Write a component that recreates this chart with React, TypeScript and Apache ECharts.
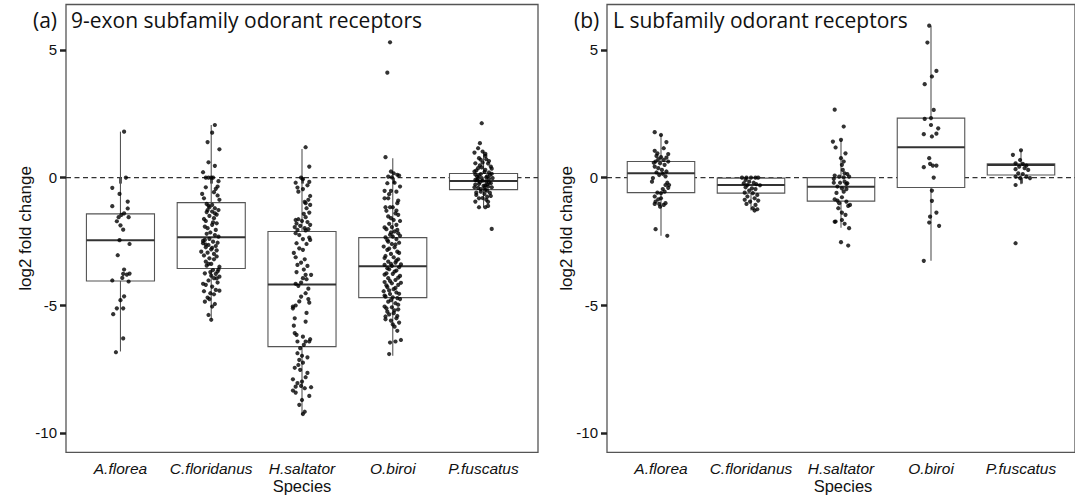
import React, { useEffect, useRef } from "react";
import * as echarts from "echarts";

// ---------- categories & ticks ----------
const CATEGORIES = ["A.florea", "C.floridanus", "H.saltator", "O.biroi", "P.fuscatus"];
const X_TICKS = [1, 2, 3, 4, 5];
const Y_TICKS = [-10, -5, 0, 5];
const REFERENCE_LINE = 0;

// ---------- box statistics [low whisker, q1, median, q3, high whisker] ----------
const BOX_9EXON = [
  [-6.81, -4.05, -2.45, -1.42, 1.8],
  [-5.55, -3.56, -2.34, -0.98, 2.06],
  [-9.3, -6.62, -4.19, -2.11, 1.12],
  [-6.98, -4.7, -3.47, -2.35, 0.76],
  [-1.16, -0.47, -0.13, 0.16, 1.02],
];
const BOX_L = [
  [-2.28, -0.59, 0.17, 0.63, 1.7],
  [-1.29, -0.61, -0.29, -0.02, 0.0],
  [-1.96, -0.92, -0.36, 0.0, 1.48],
  [-3.26, -0.39, 1.19, 2.33, 5.95],
  [-0.26, 0.1, 0.49, 0.54, 1.07],
];

// ---------- jittered points [jitter offset, log2 fold change] ----------
const PTS_9EXON_AFLOREA = [
  [0.04, 1.8], [0.06, 0.0], [-0.09, -0.4], [-0.01, -0.64], [0.08, -0.94], [-0.09, -1.12], [0.08, -1.21],
  [0.04, -1.4], [-0.02, -1.55], [0.01, -1.46], [0.09, -1.55], [-0.04, -1.71], [0.0, -1.87], [0.03, -2.04],
  [-0.01, -2.45], [0.1, -2.6], [-0.03, -3.04], [0.04, -3.6], [0.03, -3.77], [0.1, -3.76], [0.07, -3.8],
  [-0.09, -4.03], [0.02, -3.93], [0.09, -4.07], [0.0, -4.8], [0.04, -4.65], [-0.04, -5.12], [0.03, -5.12],
  [-0.08, -5.35], [0.03, -6.3], [-0.05, -6.84],
];
const PTS_9EXON_CFLORIDANUS = [
  [0.04, 2.06], [0.01, 1.76], [-0.04, 1.39], [0.09, 1.11], [-0.03, 0.6], [0.04, 0.46], [-0.09, 0.21],
  [-0.06, 0], [-0.03, 0], [0, 0], [0.02, 0], [0.08, -0.14], [-0.06, -0.38], [0.05, -0.44], [0.07, -0.35],
  [0.03, -0.57], [-0.1, -0.64], [0.07, -0.7], [-0.08, -0.81], [0.09, -0.87], [-0.05, -1.03],
  [0.01, -1.07], [-0.02, -1.16], [0.04, -1.2], [-0.04, -1.27], [0.08, -1.27], [0.01, -1.33], [0.04, -1.4],
  [-0.02, -1.5], [0.03, -1.59], [-0.06, -1.7], [0.06, -1.79], [-0.07, -1.92], [0.01, -1.85], [-0.04, -1.98],
  [0.05, -2.05], [-0.01, -2.15], [0.08, -2.31],
  [-0.07, -2.44], [0.02, -2.51], [-0.09, -2.57], [-0.03, -2.64], [0.05, -2.68], [-0.06, -2.73], [0.0, -2.81],
  [-0.11, -2.9], [-0.04, -2.94], [0.03, -2.99], [0.06, -3.09], [-0.08, -3.05], [-0.02, -3.16], [-0.06, -3.29],
  [0.0, -3.38], [-0.03, -3.38], [0.09, -3.49],
  [0.02, -3.62], [0.07, -3.68], [0.05, -3.77], [0.0, -3.84], [0.09, -3.88], [-0.07, -3.75], [0.03, -3.94],
  [-0.03, -4.03], [0.07, -4.11], [-0.09, -4.16], [0.01, -4.27], [-0.06, -4.2], [0.05, -4.4], [0.09, -4.43],
  [-0.01, -4.53], [0.03, -4.57], [-0.04, -4.7], [-0.02, -4.76], [-0.07, -4.86], [0.01, -5.05], [-0.03, -5.38],
  [0.0, -5.57],
  [-0.03, -1.1], [0.06, -1.45], [-0.08, -1.62], [0.02, -1.75], [-0.05, -2.2], [0.04, -2.25], [-0.02, -2.4],
  [0.07, -2.55], [-0.06, -2.62], [0.01, -2.75], [0.06, -2.85], [-0.09, -2.48], [0.03, -3.2], [-0.05, -3.45],
  [0.08, -3.6], [-0.01, -3.7], [0.06, -3.95], [-0.08, -4.45], [0.04, -4.95], [-0.05, -1.35],
];
const PTS_9EXON_HSALTATOR = [
  [0.04, 1.19], [0.08, 0.43], [-0.01, 0.0], [0.01, -0.06], [-0.07, -0.2], [0.08, -0.17], [-0.05, -0.39],
  [0.01, -0.45], [0.09, -0.72], [0.07, -0.87], [0.04, -1.0], [0.09, -1.07], [0.05, -1.2], [0.08, -1.37],
  [0.02, -1.42], [0.04, -1.55], [-0.07, -1.66], [-0.04, -1.63], [0.0, -1.7], [0.06, -1.74], [-0.08, -1.94],
  [-0.02, -1.89], [0.03, -1.98], [-0.05, -2.05], [0.07, -2.02], [0.04, -2.07],
  [-0.07, -2.18], [0.08, -2.35], [0.01, -2.41], [0.09, -2.44], [-0.06, -2.57], [-0.03, -2.77], [0.01, -2.83],
  [-0.07, -3.12], [0.03, -3.2], [-0.01, -3.33], [-0.05, -3.42], [0.06, -3.46], [0.04, -3.81], [0.1, -3.81],
  [0.01, -3.94], [0.05, -3.98], [-0.07, -4.16], [-0.01, -4.11], [-0.04, -4.24], [0.04, -4.53], [-0.01, -4.66],
  [0.08, -4.9], [0.07, -4.76], [-0.1, -5.05], [-0.1, -5.12], [-0.07, -5.01], [-0.08, -5.51], [0.04, -5.64],
  [-0.08, -6.09], [-0.06, -6.16], [0.01, -6.23], [0.09, -6.33], [0.04, -6.42], [-0.05, -6.42], [0.08, -6.42],
  [-0.02, -6.68], [-0.05, -6.88], [0.0, -6.98], [0.06, -7.04], [-0.03, -7.14], [0.01, -7.25], [-0.04, -7.34],
  [-0.02, -7.53], [0.04, -7.82], [-0.1, -7.9], [0.0, -7.99], [-0.07, -8.19], [-0.01, -8.16], [0.03, -8.25],
  [-0.1, -8.34], [-0.07, -8.42], [0.1, -8.21], [0.0, -8.71], [0.03, -9.17], [0.01, -9.26],
  [-0.04, -0.55], [0.06, -0.3], [0.03, -0.95], [-0.06, -1.8], [0.09, -1.85], [-0.03, -2.25], [0.05, -2.6],
  [-0.09, -2.95], [0.02, -3.6], [-0.06, -3.7], [0.07, -4.35], [-0.03, -4.85], [0.05, -5.3], [-0.09, -5.8],
  [0.02, -6.55], [-0.08, -7.45], [0.06, -7.65], [-0.05, -8.05], [0.08, -8.55], [-0.03, -8.9],
];
const PTS_9EXON_OBIROI = [
  [-0.08, 0.8], [-0.02, 0.24], [0.01, 0.17], [0.05, 0.11], [-0.05, 0.04], [-0.01, 0.01], [0.07, 0.08],
  [-0.06, -0.22], [0.02, -0.2], [0.04, -0.55], [-0.09, -0.52], [-0.02, -0.52], [-0.09, -0.81], [-0.05, -0.81],
  [0.05, -1.0], [-0.08, -1.16], [-0.03, -1.16], [0.0, -1.16], [0.04, -1.29], [0.06, -1.46], [-0.02, -1.59],
  [0.01, -1.66], [-0.04, -1.81], [0.04, -1.85], [-0.01, -1.94], [-0.07, -2.02], [0.02, -2.11], [0.06, -2.18],
  [-0.03, -2.24], [0.0, -2.31], [-0.08, -2.34], [0.04, -2.41], [-0.05, -2.51], [0.07, -2.55], [-0.01, -2.6],
  [-0.1, -2.7], [0.02, -2.73], [-0.06, -2.83], [0.05, -2.9], [-0.02, -2.99], [-0.08, -3.07], [0.01, -3.12],
  [0.06, -3.2], [-0.05, -3.29], [0.03, -3.33], [-0.09, -3.42], [-0.01, -3.46], [0.07, -3.51], [-0.04, -3.59],
  [0.04, -3.64], [-0.07, -3.75], [0.0, -3.77], [0.08, -3.85], [-0.05, -3.94], [0.03, -4.01], [-0.09, -4.09],
  [-0.01, -4.14], [0.06, -4.2], [-0.06, -4.29], [0.01, -4.37], [-0.1, -4.45], [0.04, -4.5], [-0.03, -4.56],
  [-0.08, -4.66], [0.0, -4.69], [0.08, -4.76], [-0.05, -4.86], [0.03, -4.92], [-0.09, -5.05], [-0.01, -5.08],
  [0.06, -5.16], [-0.06, -5.25], [0.01, -5.31], [-0.08, -5.44], [0.04, -5.51], [-0.02, -5.6], [0.07, -5.68],
  [0.02, -5.84], [-0.03, -6.46], [0.03, -6.42], [0.09, -6.36], [-0.04, -6.91], [-0.03, 5.3], [-0.06, 4.11],
  [0.08, -0.35], [-0.04, -0.65], [0.06, -0.9], [-0.07, -1.3], [0.03, -1.4], [-0.05, -1.52], [0.08, -1.7],
  [-0.09, -1.95], [0.05, -2.05], [-0.02, -2.15], [0.08, -2.28], [-0.06, -2.45], [0.03, -2.62], [-0.04, -2.78],
  [0.07, -2.95], [-0.09, -3.15], [0.04, -3.25], [-0.02, -3.38], [0.09, -3.4], [-0.06, -3.55], [0.02, -3.68],
  [-0.09, -3.8], [0.06, -3.92], [-0.03, -4.05], [0.09, -4.12], [-0.07, -4.22], [0.03, -4.32], [-0.04, -4.42],
  [0.07, -4.55], [-0.09, -4.62], [0.05, -4.72], [-0.02, -4.8], [0.06, -4.98], [-0.07, -5.12], [0.02, -5.2],
  [-0.04, -5.36], [0.05, -5.42], [-0.08, -5.55], [0.0, -5.75], [0.05, -6.0],
];
const PTS_9EXON_PFUSCATUS = [
  [-0.02, 2.13], [-0.04, 1.35], [-0.1, 0.98], [-0.01, 1.02], [0.02, 0.93], [-0.05, 0.76], [0.03, 0.72],
  [-0.09, 0.56], [-0.01, 0.59], [0.08, 0.43], [-0.06, 0.37], [0.02, 0.3], [-0.1, 0.24], [0.06, 0.2],
  [-0.03, 0.14], [-0.07, 0.04], [0.03, 0.01], [0.1, -0.02], [-0.09, -0.09], [-0.01, -0.12], [0.06, -0.2],
  [-0.05, -0.25], [0.02, -0.3], [-0.1, -0.38], [0.09, -0.38], [-0.03, -0.45], [0.04, -0.51], [-0.08, -0.59],
  [0.01, -0.64], [0.08, -0.72], [-0.05, -0.81], [0.03, -0.87], [-0.09, -0.94], [0.05, -1.11], [-0.05, -1.16],
  [0.02, -1.16], [0.09, -2.01],
  [0.05, 0.55], [-0.04, 0.48], [0.09, 0.35], [-0.08, 0.28], [0.01, 0.22], [0.07, 0.1], [-0.05, 0.08],
  [0.04, 0.05], [-0.02, -0.02], [0.06, -0.05], [-0.07, -0.1], [0.03, -0.15], [-0.04, -0.18], [0.08, -0.22],
  [-0.09, -0.27], [0.0, -0.32], [0.05, -0.35], [-0.06, -0.4], [0.02, -0.48], [-0.03, -0.55], [0.07, -0.6],
  [-0.08, -0.68], [0.04, -0.75], [-0.01, -0.8], [0.06, 0.65], [-0.03, 0.7], [0.02, 0.85], [-0.06, -0.03],
  [0.09, 0.15], [-0.09, 0.12], [0.01, -0.4], [0.04, -0.27], [-0.02, 0.4], [0.05, -0.95], [-0.06, 1.15],
];

const PTS_L_AFLOREA = [
  [-0.07, 1.78], [0.0, 1.67], [0.06, 1.39], [-0.07, 1.05], [0.08, 0.92], [-0.05, 0.85], [0.0, 0.8],
  [-0.03, 0.72], [0.03, 0.69], [-0.06, 0.63], [0.08, 0.63], [-0.01, 0.56], [0.04, 0.5], [-0.07, 0.43],
  [-0.03, 0.37], [0.01, 0.3], [0.06, 0.24], [-0.05, 0.2], [-0.09, -0.02], [-0.1, -0.16], [0.07, -0.2],
  [0.05, -0.29], [0.09, -0.29], [-0.04, -0.59], [0.0, -0.61], [0.04, -0.55], [-0.07, -0.74], [0.0, -0.81],
  [-0.06, -0.94], [-0.02, -1.03], [-0.07, -1.03], [0.03, -1.07], [0.05, -1.0], [-0.01, -1.14], [-0.06, -2.02],
  [0.07, -2.28], [0.02, 0.15], [-0.02, 0.1], [0.05, 0.05], [-0.08, 0.58], [0.06, 0.78], [0.02, -0.45],
  [-0.03, -0.85], [0.08, -0.4], [0.03, 1.15], [-0.04, 0.95],
];
const PTS_L_CFLORIDANUS = [
  [-0.1, 0.0], [-0.05, 0.0], [0.0, 0.0], [0.05, 0.0], [0.08, 0.0], [-0.06, -0.09], [-0.02, -0.16],
  [0.03, -0.2], [-0.08, -0.22], [-0.04, -0.29], [0.06, -0.26], [0.1, -0.3], [-0.06, -0.38], [0.01, -0.42],
  [0.05, -0.45], [-0.02, -0.51], [-0.07, -0.59], [0.02, -0.61], [0.07, -0.68], [-0.04, -0.74], [0.04, -0.81],
  [-0.07, -0.87], [0.08, -0.9], [-0.01, -0.94], [-0.05, -1.03], [0.05, -1.07], [0.02, -1.2], [0.07, -1.24],
  [0.04, -1.29],
];
const PTS_L_HSALTATOR = [
  [-0.07, 2.66], [0.03, 2.0], [-0.09, 1.41], [0.0, 1.48], [-0.06, 1.18], [0.0, 0.76], [0.03, 0.63],
  [0.01, 0.5], [-0.07, 0.08], [-0.02, 0.04], [0.03, 0.01], [0.07, 0.14], [0.09, 0.04], [0.04, 0.17],
  [-0.08, -0.2], [-0.01, -0.2], [0.04, -0.16], [0.07, -0.22], [-0.04, -0.35], [0.01, -0.42], [0.06, -0.45],
  [-0.07, -0.85], [-0.04, -0.9], [0.01, -0.77], [0.06, -0.94], [0.1, -1.07], [0.08, -1.11], [0.01, -1.37],
  [0.05, -1.46], [-0.06, -1.72], [-0.07, -1.73], [0.01, -1.66], [0.04, -1.81], [0.09, -1.98], [0.0, -2.53],
  [0.08, -2.66], [-0.05, -0.6], [0.03, -0.55], [-0.02, -1.0], [0.06, -0.25], [-0.08, -0.05], [0.02, 0.3],
  [-0.03, -1.2], [0.05, 0.95],
];
const PTS_L_OBIROI = [
  [-0.02, 5.95], [-0.04, 5.29], [0.06, 4.18], [0.01, 3.96], [-0.07, 3.66], [0.03, 2.65], [-0.07, 2.3],
  [0.0, 2.33], [0.0, 2.06], [0.08, 1.93], [-0.08, 1.7], [0.01, 1.61], [0.06, 1.72], [-0.02, 0.76],
  [-0.08, 0.41], [-0.01, 0.54], [0.02, 0.47], [0.06, 0.47], [0.03, 0.0], [0.01, -0.51], [0.01, -0.91],
  [0.06, -1.37], [-0.01, -1.53], [-0.02, -1.76], [0.09, -1.89], [-0.08, -3.26],
];
const PTS_L_PFUSCATUS = [
  [-0.09, 0.89], [0.0, 1.07], [-0.01, 0.69], [-0.06, 0.56], [0.02, 0.54], [0.06, 0.47], [-0.02, 0.43],
  [-0.06, 0.33], [0.04, 0.37], [0.08, 0.3], [-0.03, 0.17], [0.02, 0.14], [0.06, 0.04], [-0.06, 0.04],
  [0.1, -0.02], [-0.01, -0.02], [-0.06, -0.29], [-0.06, -2.57],
];

const GROUPS_9EXON = [PTS_9EXON_AFLOREA, PTS_9EXON_CFLORIDANUS, PTS_9EXON_HSALTATOR, PTS_9EXON_OBIROI, PTS_9EXON_PFUSCATUS];
const GROUPS_L = [PTS_L_AFLOREA, PTS_L_CFLORIDANUS, PTS_L_HSALTATOR, PTS_L_OBIROI, PTS_L_PFUSCATUS];

// ---------- styling constants ----------
const BOX_WIDTH = 0.75;
const Y_MIN = -10.76;
const Y_MAX = 6.78;
const X_MIN = 0.4;
const X_MAX = 5.6;
const TEXT_FONT = "'Liberation Sans', Arial, sans-serif";
const TITLE_FONT = "'Open Sans', 'Noto Sans', sans-serif";
const BOX_COLOR = "#555555";
const MEDIAN_COLOR = "#333333";

function renderBox(params: any, api: any) {
  const x = api.value(0);
  const lo = api.value(1);
  const q1 = api.value(2);
  const med = api.value(3);
  const q3 = api.value(4);
  const hi = api.value(5);
  const half = api.size([BOX_WIDTH, 0])[0] / 2;
  const pLo = api.coord([x, lo]);
  const pQ1 = api.coord([x, q1]);
  const pMed = api.coord([x, med]);
  const pQ3 = api.coord([x, q3]);
  const pHi = api.coord([x, hi]);
  return {
    type: "group",
    children: [
      { type: "line", shape: { x1: pHi[0], y1: pHi[1], x2: pQ3[0], y2: pQ3[1] }, style: { stroke: BOX_COLOR, lineWidth: 1.1 } },
      { type: "line", shape: { x1: pLo[0], y1: pLo[1], x2: pQ1[0], y2: pQ1[1] }, style: { stroke: BOX_COLOR, lineWidth: 1.1 } },
      {
        type: "rect",
        shape: { x: pQ1[0] - half, y: pQ3[1], width: half * 2, height: Math.max(pQ1[1] - pQ3[1], 0.5) },
        style: { fill: "#ffffff", stroke: BOX_COLOR, lineWidth: 1.1 },
      },
      { type: "line", shape: { x1: pMed[0] - half, y1: pMed[1], x2: pMed[0] + half, y2: pMed[1] }, style: { stroke: MEDIAN_COLOR, lineWidth: 2 } },
    ],
  };
}

function renderHLine(params: any, api: any) {
  const cs = params.coordSys;
  const y = api.coord([api.value(0), api.value(1)])[1];
  return {
    type: "line",
    shape: { x1: cs.x, y1: y, x2: cs.x + cs.width, y2: y },
    style: { stroke: "#333333", lineWidth: 1.2, lineDash: [5, 3.5] },
  };
}

function makeAxes(gridIndex: number) {
  const xAxis = {
    type: "value",
    gridIndex,
    min: X_MIN,
    max: X_MAX,
    splitLine: { show: false },
    axisLine: { show: false },
    axisTick: { show: true, customValues: X_TICKS, length: 6, lineStyle: { color: "#222", width: 2.5 } },
    axisLabel: {
      show: true,
      customValues: X_TICKS,
      formatter: (v: number) => CATEGORIES[Math.round(v) - 1] || "",
      fontFamily: TEXT_FONT,
      fontStyle: "italic",
      fontSize: 15.5,
      color: "#111",
      margin: 8,
    },
  };
  const yAxis = {
    type: "value",
    gridIndex,
    min: Y_MIN,
    max: Y_MAX,
    splitLine: { show: false },
    axisLine: { show: false },
    axisTick: { show: true, customValues: Y_TICKS, length: 6, lineStyle: { color: "#222", width: 2.5 } },
    axisLabel: {
      show: true,
      customValues: Y_TICKS,
      fontFamily: TEXT_FONT,
      fontSize: 15,
      color: "#111",
      margin: 9,
    },
  };
  return { xAxis, yAxis };
}

function makeSeries(gridIndex: number, boxes: number[][], groups: number[][][]) {
  const boxData = boxes.map((b, i) => [X_TICKS[i], ...b]);
  const pointData: number[][] = [];
  groups.forEach((g, i) => g.forEach(([dx, y]) => pointData.push([X_TICKS[i] + dx, y])));
  return [
    {
      type: "custom",
      xAxisIndex: gridIndex,
      yAxisIndex: gridIndex,
      renderItem: renderHLine,
      data: [[X_MIN, REFERENCE_LINE]],
      z: 1,
      silent: true,
    },
    {
      type: "custom",
      xAxisIndex: gridIndex,
      yAxisIndex: gridIndex,
      renderItem: renderBox,
      data: boxData,
      encode: { x: 0, y: [1, 2, 3, 4, 5] },
      z: 2,
      silent: true,
    },
    {
      type: "scatter",
      xAxisIndex: gridIndex,
      yAxisIndex: gridIndex,
      data: pointData,
      symbol: "circle",
      symbolSize: 4.2,
      itemStyle: { color: "#000000" },
      z: 3,
      silent: true,
    },
  ];
}

export default function App() {
  const ref = useRef<HTMLDivElement>(null);
  useEffect(() => {
    if (!ref.current) return;
    const chart = echarts.init(ref.current, null, { renderer: "svg" });
    const a0 = makeAxes(0);
    const a1 = makeAxes(1);
    const PANEL_TOP = 4.5;
    const PANEL_H = 447.8;
    const txt = (text: string, x: number, y: number, size: number, family: string, extra: any = {}) => ({
      type: "text",
      x,
      y,
      silent: true,
      ...extra,
      style: {
        text,
        fill: "#111",
        fontSize: size,
        fontFamily: family,
        align: extra.align || "left",
        verticalAlign: "middle",
        textAlign: extra.align || "left",
        textVerticalAlign: "middle",
      },
    });
    chart.setOption({
      animation: false,
      backgroundColor: "#ffffff",
      grid: [
        { left: 66, top: PANEL_TOP, width: 472, height: PANEL_H, show: true, borderColor: "#555", borderWidth: 1.3, backgroundColor: "transparent" },
        { left: 607, top: PANEL_TOP, width: 472, height: PANEL_H, show: true, borderColor: "#555", borderWidth: 1.3, backgroundColor: "transparent" },
      ],
      xAxis: [a0.xAxis, a1.xAxis],
      yAxis: [a0.yAxis, a1.yAxis],
      series: [...makeSeries(0, BOX_9EXON, GROUPS_9EXON), ...makeSeries(1, BOX_L, GROUPS_L)],
      graphic: [
        txt("(a)", 33, 20.2, 21, TITLE_FONT),
        txt("9-exon subfamily odorant receptors", 71, 20.2, 21, TITLE_FONT),
        txt("(b)", 574, 20.2, 21, TITLE_FONT),
        txt("L subfamily odorant receptors", 613, 20.2, 21, TITLE_FONT),
        txt("log2 fold change", 25, 228.4, 17, TEXT_FONT, { rotation: Math.PI / 2, align: "center" }),
        txt("log2 fold change", 566, 228.4, 17, TEXT_FONT, { rotation: Math.PI / 2, align: "center" }),
        txt("Species", 302, 485.6, 16.5, TEXT_FONT, { align: "center" }),
        txt("Species", 843, 485.6, 16.5, TEXT_FONT, { align: "center" }),
      ],
    });
    return () => chart.dispose();
  }, []);
  return <div ref={ref} style={{ position: "absolute", left: 0, top: 0, width: 1075, height: 496 }} />;
}
